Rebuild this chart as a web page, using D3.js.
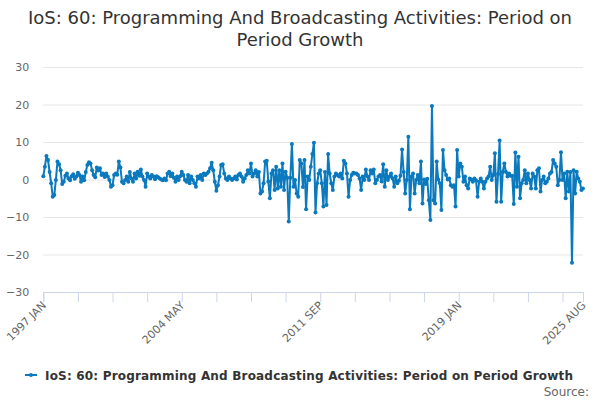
<!DOCTYPE html>
<html>
<head>
<meta charset="utf-8">
<script src="https://cdn.jsdelivr.net/npm/d3@7"></script>
<style>
html,body{margin:0;padding:0;background:#fff;}
svg{display:block;font-family:"DejaVu Sans",Verdana,sans-serif;}
</style>
</head>
<body>
<svg id="chart" width="600" height="400"></svg>
<script>
const titleLines = ["IoS: 60: Programming And Broadcasting Activities: Period on", "Period Growth"];
const seriesName = "IoS: 60: Programming And Broadcasting Activities: Period on Period Growth";
const startYear = 1997;
const monthNames = ["JAN","FEB","MAR","APR","MAY","JUN","JUL","AUG","SEP","OCT","NOV","DEC"];
const yTicks = [-30, -20, -10, 0, 10, 20, 30];

const v1997 = [0.9, 3.4, 6.3, 5.2, 2.0, -1.0, -4.6, -4.1, -0.1, 4.8, 4.1, 2.5];
const v1998 = [-1.2, -0.6, 1.0, 1.6, 0.3, -0.2, 0.9, 1.4, 0.2, 0.8, 1.8, 1.2];
const v1999 = [-0.6, 0.8, -0.2, 2.0, 3.9, 4.6, 4.3, 2.5, 1.2, 0.6, 3.2, 2.4];
const v2000 = [3.0, 1.2, 1.6, 0.7, 1.6, 0.8, -0.1, -1.9, -1.5, 1.2, 1.6, 1.3];
const v2001 = [4.8, 3.2, -0.6, -1.0, -0.1, 0.8, -0.6, 2.0, 0.3, -0.6, 1.6, 0.3];
const v2002 = [2.1, 1.0, 2.7, 0.8, -0.1, -1.9, 1.6, 0.8, 0.3, 1.2, 0.8, 0.1];
const v2003 = [0.9, 0.6, 0.3, 0.0, -0.2, 0.3, -0.2, 1.6, 2.1, 0.9, 1.6, 0.5];
const v2004 = [-0.6, 0.8, -0.1, 0.9, 2.1, 1.2, -0.1, -0.6, 1.2, -1.0, 0.8, -0.1];
const v2005 = [-1.0, -1.9, 0.8, 0.3, 1.2, -0.1, 1.6, 1.2, 1.6, 2.1, 3.0, 4.5];
const v2006 = [2.5, -0.6, -3.0, -1.5, 0.8, 3.9, 4.1, 1.6, 0.3, -0.1, 0.8, 0.3];
const v2007 = [-0.1, 0.3, 0.8, 0.0, 1.2, 1.6, 0.8, -0.6, 0.3, 1.2, 2.5, 1.6];
const v2008 = [4.3, 0.8, 1.6, 2.5, 0.8, 2.0, -3.7, -3.2, -1.0, 4.8, 5.0, -0.5];
const v2009 = [-5.0, 1.6, 2.5, -2.8, 3.4, -2.4, 2.5, -1.9, 4.3, -2.8, 2.1, 0.5];
const v2010 = [-11.2, 0.5, 9.5, -1.9, -0.1, -3.7, -4.6, 5.2, 4.3, -2.0, 5.2, -7.9];
const v2011 = [0.8, -0.1, 3.4, 6.8, 9.8, -8.8, -1.0, 1.6, 2.5, -1.0, -7.2, 2.0];
const v2012 = [-6.8, 6.8, 1.6, -1.0, -2.8, 0.8, 1.6, 1.2, 0.8, 1.6, 0.3, 5.0];
const v2013 = [4.3, 1.6, -4.6, -0.1, 1.2, 1.8, 1.6, 1.6, 1.2, 0.3, -2.8, 0.8];
const v2014 = [-0.1, 2.7, 0.8, -0.1, 2.5, 1.6, 2.7, -1.0, -0.1, 0.8, 1.2, -0.5];
const v2015 = [4.1, -1.9, 2.5, -0.1, 0.8, 1.6, 0.3, -1.9, 0.8, -1.0, -0.3, 1.0];
const v2016 = [8.0, 2.0, -3.7, -0.1, 11.4, -7.9, 0.8, 1.6, -3.7, -0.1, 1.2, -1.0];
const v2017 = [4.8, -6.4, 0.0, -1.2, 0.2, -5.5, -10.8, 19.6, -5.5, -6.4, 4.8, 0.0];
const v2018 = [-1.0, -8.1, 7.9, 2.5, 1.2, 0.0, 0.3, -1.5, -1.9, -1.5, -7.2, 7.9];
const v2019 = [0.8, 4.3, 3.4, -0.6, 0.8, -1.5, -2.4, 0.3, 0.0, -0.6, 0.3, -0.2];
const v2020 = [-4.6, -0.6, 0.3, -0.6, -2.4, -0.6, 0.3, 0.8, 3.4, -0.1, 1.2, 7.0];
const v2021 = [-5.9, 1.5, 10.4, -5.9, 2.0, 4.3, 2.1, 0.8, 1.6, 1.0, 1.0, -6.5];
const v2022 = [7.2, -1.9, 6.1, -5.0, -1.0, -0.1, 2.5, -1.0, 1.6, -0.1, -2.4, 1.6];
const v2023 = [0.8, -2.4, 2.5, 3.0, -3.2, -0.1, 0.8, -1.0, -0.6, 0.3, 1.6, 2.0];
const v2024 = [5.2, 4.3, 3.4, -1.5, -0.1, 7.3, -0.1, 1.6, -5.0, 2.1, -3.2, 2.0];
const v2025 = [-22.2, 2.5, -3.7, 2.1, 0.3, -0.6, -2.8, -2.4];

const values = [].concat(v1997, v1998, v1999, v2000, v2001, v2002, v2003, v2004, v2005, v2006,
  v2007, v2008, v2009, v2010, v2011, v2012, v2013, v2014, v2015, v2016, v2017, v2018, v2019,
  v2020, v2021, v2022, v2023, v2024, v2025);
const labels = values.map((d, i) => (startYear + Math.floor(i / 12)) + " " + monthNames[i % 12]);
const data = values.map((v, i) => ({i: i, v: v, label: labels[i]}));

const svg = d3.select("#chart");
const W = 600, H = 400;
const plot = {left: 43.3, right: 583, top: 67, bottom: 292};

const x = d3.scaleLinear().domain([0, values.length - 1]).range([plot.left, plot.right]);
const y = d3.scaleLinear().domain([-30, 30]).range([plot.bottom, plot.top]);

// title
svg.append("text").attr("x", W / 2).attr("y", 23.5).attr("text-anchor", "middle")
  .attr("fill", "#333").style("font-size", "18px").text(titleLines[0]);
svg.append("text").attr("x", W / 2).attr("y", 45.5).attr("text-anchor", "middle")
  .attr("fill", "#333").style("font-size", "18px").text(titleLines[1]);

// grid + y labels
const yAxis = d3.axisLeft(y).tickValues(yTicks).tickSize(-(plot.right - plot.left)).tickPadding(14);
const gy = svg.append("g").attr("transform", `translate(${plot.left},0)`).call(yAxis);
gy.select(".domain").remove();
gy.selectAll(".tick line").attr("stroke", "#e6e6e6");
gy.selectAll(".tick text").attr("fill", "#666").style("font-size", "11px")
  .style("font-family", '"DejaVu Sans",Verdana,sans-serif');

// x axis
const minorTicks = d3.range(0, values.length, 22).concat([values.length - 1]);
const labelled = new Set([0, 88, 176, 264, values.length - 1]);
const xAxis = d3.axisBottom(x).tickValues(minorTicks).tickSize(10)
  .tickFormat(d => labelled.has(d) ? labels[d] : "");
const gx = svg.append("g").attr("transform", `translate(0,${plot.bottom})`).call(xAxis);
gx.select(".domain").attr("stroke", "#ccd6eb");
gx.selectAll(".tick line").attr("stroke", "#ccd6eb");
gx.selectAll(".tick text").attr("fill", "#666").style("font-size", "11px")
  .style("font-family", '"DejaVu Sans",Verdana,sans-serif')
  .attr("text-anchor", "end").attr("dy", null).attr("y", 0)
  .attr("transform", "translate(3,14) rotate(-45)");

// series
const color = "#0a79bd";
const line = d3.line().x(d => x(d.i)).y(d => y(d.v));
svg.append("path").datum(data).attr("d", line).attr("fill", "none")
  .attr("stroke", color).attr("stroke-width", 2).attr("stroke-linejoin", "round");
svg.append("g").selectAll("circle").data(data).join("circle")
  .attr("cx", d => x(d.i)).attr("cy", d => y(d.v)).attr("r", 2).attr("fill", color);

// legend
const lg = svg.append("g");
lg.append("line").attr("x1", 25).attr("x2", 37).attr("y1", 375).attr("y2", 375)
  .attr("stroke", color).attr("stroke-width", 2);
lg.append("circle").attr("cx", 31).attr("cy", 375).attr("r", 2).attr("fill", color);
lg.append("text").attr("x", 45).attr("y", 379.5).attr("fill", "#333")
  .style("font-size", "12px").style("font-weight", "bold")
  .attr("textLength", 528).attr("lengthAdjust", "spacing").text(seriesName);

// source
svg.append("text").attr("x", 589).attr("y", 396).attr("text-anchor", "end")
  .attr("fill", "#666").style("font-size", "12px").text("Source:");
</script>
</body>
</html>
